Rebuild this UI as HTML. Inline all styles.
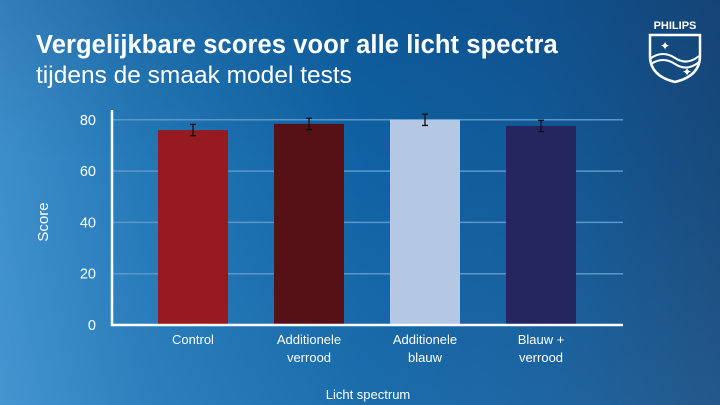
<!DOCTYPE html>
<html><head><meta charset="utf-8"><style>
html,body{margin:0;padding:0}
body{width:720px;height:405px;overflow:hidden;font-family:"Liberation Sans",sans-serif;
background:linear-gradient(90deg,#3d8fcb 0%,#2378b6 20%,#0f62a3 50%,#125a98 75%,#184a7c 100%);position:relative}
#shade{position:absolute;left:0;top:0;width:720px;height:405px;background:linear-gradient(180deg,rgba(0,30,80,0.15) 0%,rgba(0,0,0,0) 40%,rgba(120,190,240,0.12) 100%)}
h1{position:absolute;left:36px;top:31px;margin:0;font-size:25.5px;font-weight:bold;color:#fff;letter-spacing:0.1px}
h2{position:absolute;left:36px;top:62px;margin:0;font-size:24.5px;font-weight:normal;color:#fff}
svg{position:absolute;left:0;top:0}
</style></head><body>
<div id="shade"></div>
<h1>Vergelijkbare scores voor alle licht spectra</h1>
<h2>tijdens de smaak model tests</h2>
<svg width="720" height="405" id="chart">
<g id="logo">
<text x="675" y="29" fill="#fff" font-size="11" font-weight="bold" text-anchor="middle" font-family="Liberation Sans">PHILIPS</text>
<path d="M650 35 H700 V56 Q700 76 675 82 Q650 76 650 56 Z" fill="none" stroke="#fff" stroke-width="2.5"/>
<path d="M651 58 Q663 50 675 58 T699 56 M651 64 Q663 56 675 64 T699 62" fill="none" stroke="#fff" stroke-width="2"/>
<text x="660" y="50" fill="#fff" font-size="12">✦</text><text x="682" y="76" fill="#fff" font-size="12">✦</text>
</g>
</svg>
<script>
const categories=[["Control"],["Additionele","verrood"],["Additionele","blauw"],["Blauw +","verrood"]];
const scores=[76,78.4,80,77.6];
const errors=[2.2,2.2,2.2,2.2];
const colors=["#971a20","#561117","#b4c8e4","#25265f"];
const ticks=[0,20,40,60,80];
const NS="http://www.w3.org/2000/svg";
const svg=document.getElementById('chart');
const y0=325,pxPer=2.565,x0=112,xEnd=623,step=116,first=193,bw=70;
const Y=v=>y0-v*pxPer, X=i=>first+i*step;
function mk(t,a){const e=document.createElementNS(NS,t);for(const k in a)e.setAttribute(k,a[k]);svg.appendChild(e);return e;}
ticks.forEach(t=>{
 if(t>0){const l=mk('line',{x1:x0,x2:xEnd,y1:Y(t),y2:Y(t),stroke:'#5b97cc','stroke-width':1.5});
 
 }
 const tx=mk('text',{x:96,y:Y(t)+5,fill:'#fff','font-size':14.5,'text-anchor':'end'});tx.textContent=t;
 
 
});
scores.forEach((v,i)=>{
 const r=mk('rect',{x:X(i)-bw/2,y:Y(v),width:bw,height:y0-Y(v),fill:colors[i]});
 
 
 const e=mk('path',{d:`M${X(i)} ${Y(v+errors[i])} V${Y(v-errors[i])} M${X(i)-3} ${Y(v+errors[i])} H${X(i)+3} M${X(i)-3} ${Y(v-errors[i])} H${X(i)+3}`,stroke:'#111','stroke-width':1.3,fill:'none'});
 
 
 categories[i].forEach((s,j)=>{
  const t=mk('text',{x:X(i),y:344+j*18,fill:'#fff','font-size':13,'text-anchor':'middle'});t.textContent=s;
  
  
 });
});
const ax=mk('path',{d:`M${x0} 110 V${y0} H${xEnd}`,stroke:'#fff','stroke-width':2.5,fill:'none'});


const yt=mk('text',{x:48,y:222,fill:'#fff','font-size':15,'text-anchor':'middle',transform:'rotate(-90 48 222)'});yt.textContent='Score';


const xt=mk('text',{x:368,y:399,fill:'#fff','font-size':13,'text-anchor':'middle'});xt.textContent='Licht spectrum';


</script>
</body></html>
